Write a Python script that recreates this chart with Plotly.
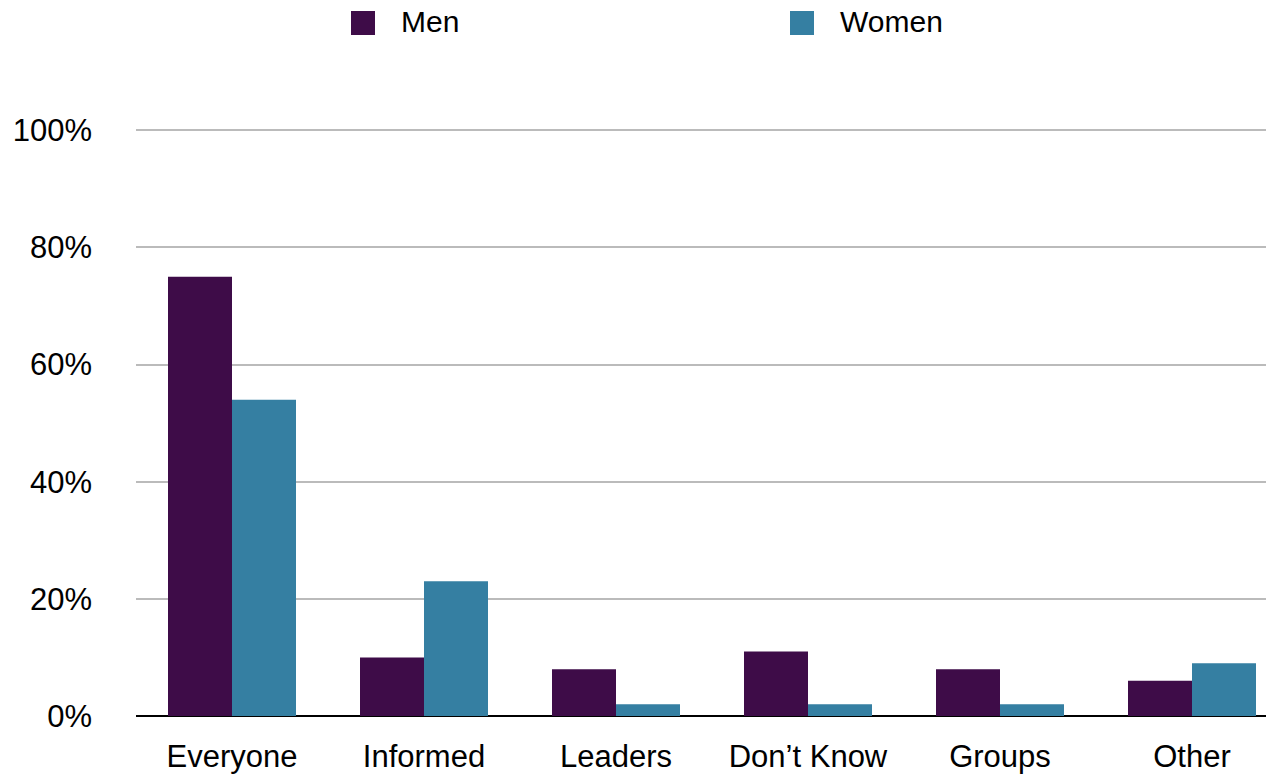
import plotly.graph_objects as go

# survey answers by gender (percent)
categories = ["Everyone", "Informed", "Leaders", "Don\u2019t Know", "Groups", "Other"]
men = [75, 10, 8, 11, 8, 6]
women = [54, 23, 2, 2, 2, 9]
y_ticks = [0, 20, 40, 60, 80, 100]

MEN_COLOR = "#3E0C48"
WOMEN_COLOR = "#357FA2"
FONT = "Liberation Sans, Arial, Helvetica, sans-serif"

# page body adds an 8px margin, so the figure is 8px smaller than the window
PLOT_W = 1138
PLOT_H = 588

fig = go.Figure()
fig.add_trace(go.Bar(x=categories, y=men, name="Men", marker=dict(color=MEN_COLOR, line=dict(width=0))))
fig.add_trace(go.Bar(x=categories, y=women, name="Women", marker=dict(color=WOMEN_COLOR, line=dict(width=0))))

# legend drawn by hand so the swatches can be as big as the original
legend_items = [("Men", MEN_COLOR, 215 / PLOT_W), ("Women", WOMEN_COLOR, 654 / PLOT_W)]
for label, color, x0 in legend_items:
    fig.add_shape(type="rect", xref="paper", yref="paper",
                  x0=x0, x1=x0 + 24 / PLOT_W, y0=681 / PLOT_H, y1=705 / PLOT_H,
                  fillcolor=color, line=dict(width=0))
    fig.add_annotation(text=label, xref="paper", yref="paper",
                       x=x0 + 48 / PLOT_W, y=694 / PLOT_H, xanchor="left", yanchor="middle",
                       showarrow=False, font=dict(size=30, color="black", family=FONT))

fig.update_layout(
    width=1266, height=768,
    margin=dict(l=128, r=0, t=120, b=60),
    barmode="group", bargap=1 / 3, bargroupgap=0,
    plot_bgcolor="white", paper_bgcolor="white",
    showlegend=False,
    font=dict(family=FONT, size=31, color="black"),
)
fig.update_xaxes(range=[-0.5, -0.5 + PLOT_W / 192], showgrid=False, showline=False,
                 ticks="", ticklabelstandoff=19, tickfont=dict(size=31))
fig.update_yaxes(range=[0, 100.4], tickvals=y_ticks, ticktext=[f"{v}%" for v in y_ticks],
                 showgrid=True, gridcolor="#BBBBBB", gridwidth=2,
                 zeroline=True, zerolinecolor="black", zerolinewidth=2,
                 showline=False, ticks="", ticklabelstandoff=43, tickfont=dict(size=31))

fig.write_html("out.html")
